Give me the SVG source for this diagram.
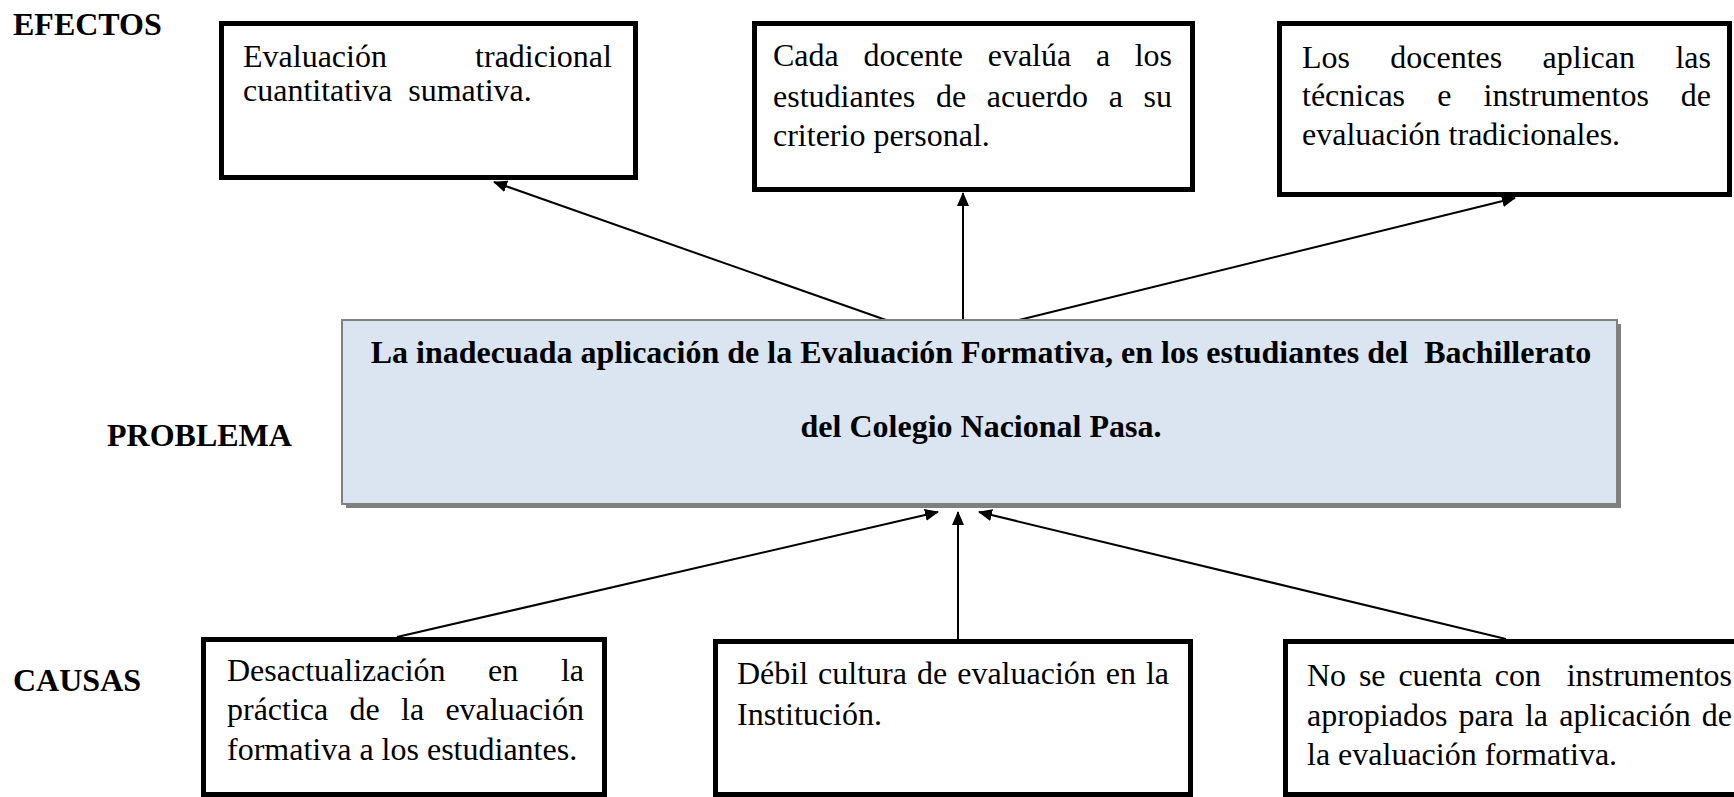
<svg xmlns="http://www.w3.org/2000/svg" width="1734" height="797" viewBox="0 0 1734 797">
<style>
.box{fill:#fff;stroke:#000;stroke-width:5}
.t{font-family:"Liberation Serif","Times New Roman",serif;font-size:32px;fill:#000}
.b{font-family:"Liberation Serif","Times New Roman",serif;font-size:32px;font-weight:bold;fill:#000}
.lbl{font-family:"Liberation Serif","Times New Roman",serif;font-size:32px;font-weight:bold;fill:#000}
.c{stroke:#000;stroke-width:2;fill:none;marker-end:url(#ah)}
</style>
<defs>
<marker id="ah" markerWidth="14" markerHeight="12" refX="13" refY="6" orient="auto" markerUnits="userSpaceOnUse">
<path d="M0,0 L14,6 L0,12 Z" fill="#000"/>
</marker>
</defs>
<rect width="1734" height="797" fill="#fff"/>

<g id="labels">
<text class="lbl" x="13" y="35">EFECTOS</text>
<text class="lbl" x="107" y="446">PROBLEMA</text>
<text class="lbl" x="13" y="691">CAUSAS</text>
</g>

<g id="connectors">
<path class="c" d="M886,320 L494,182"/>
<path class="c" d="M963,320 L963,193"/>
<path class="c" d="M1019,320 L1515,198"/>
<path class="c" d="M397,637 L938,512"/>
<path class="c" d="M958,639 L958,512"/>
<path class="c" d="M1506,639 L979,512"/>
</g>

<g id="efecto1">
<rect class="box" x="221.5" y="23.5" width="414" height="154"/>
<text class="t" y="67"><tspan x="243">Evaluación</tspan><tspan x="475.1">tradicional</tspan></text>
<text class="t" x="243" y="101" xml:space="preserve">cuantitativa  sumativa.</text>
</g>

<g id="efecto2">
<rect class="box" x="754.5" y="23.5" width="438" height="166"/>
<text class="t" y="66"><tspan x="773">Cada</tspan><tspan x="863.5">docente</tspan><tspan x="987.7">evalúa</tspan><tspan x="1095.9">a</tspan><tspan x="1134.7">los</tspan></text>
<text class="t" y="107"><tspan x="773">estudiantes</tspan><tspan x="935.9">de</tspan><tspan x="986.8">acuerdo</tspan><tspan x="1108.8">a</tspan><tspan x="1143.6">su</tspan></text>
<text class="t" x="773" y="146">criterio personal.</text>
</g>

<g id="efecto3">
<rect class="box" x="1279.5" y="23.5" width="450" height="171"/>
<text class="t" y="68"><tspan x="1302">Los</tspan><tspan x="1390.3">docentes</tspan><tspan x="1542.6">aplican</tspan><tspan x="1675.4">las</tspan></text>
<text class="t" y="106"><tspan x="1302">técnicas</tspan><tspan x="1437.2">e</tspan><tspan x="1483.5">instrumentos</tspan><tspan x="1680.8">de</tspan></text>
<text class="t" x="1302" y="145">evaluación tradicionales.</text>
</g>

<g id="problema">
<rect x="346" y="324" width="1275" height="184" fill="#7f7f7f"/>
<rect x="342" y="320" width="1275" height="184" fill="#dbe5f1" stroke="#808080" stroke-width="2"/>
<text class="b" x="981" y="363" text-anchor="middle" xml:space="preserve">La inadecuada aplicación de la Evaluación Formativa, en los estudiantes del  Bachillerato</text>
<text class="b" x="981" y="437" text-anchor="middle">del Colegio Nacional Pasa.</text>
</g>

<g id="causa1">
<rect class="box" x="203.5" y="639.5" width="401" height="155"/>
<text class="t" y="681"><tspan x="227">Desactualización</tspan><tspan x="488.1">en</tspan><tspan x="560.9">la</tspan></text>
<text class="t" y="720"><tspan x="227">práctica</tspan><tspan x="349.6">de</tspan><tspan x="401.1">la</tspan><tspan x="445.4">evaluación</tspan></text>
<text class="t" x="227" y="760">formativa a los estudiantes.</text>
</g>

<g id="causa2">
<rect class="box" x="715.5" y="641.5" width="475" height="153"/>
<text class="t" y="684"><tspan x="737">Débil</tspan><tspan x="818.1">cultura</tspan><tspan x="917">de</tspan><tspan x="957.2">evaluación</tspan><tspan x="1105.8">en</tspan><tspan x="1145.9">la</tspan></text>
<text class="t" x="737" y="725">Institución.</text>
</g>

<g id="causa3">
<rect class="box" x="1285.5" y="641.5" width="470" height="153"/>
<text class="t" y="686"><tspan x="1307">No</tspan><tspan x="1358.9">se</tspan><tspan x="1398.4">cuenta</tspan><tspan x="1494.7">con</tspan><tspan x="1566.7">instrumentos</tspan></text>
<text class="t" y="726"><tspan x="1307">apropiados</tspan><tspan x="1458.6">para</tspan><tspan x="1524.9">la</tspan><tspan x="1559.2">aplicación</tspan><tspan x="1701.8">de</tspan></text>
<text class="t" x="1307" y="765">la evaluación formativa.</text>
</g>
</svg>
